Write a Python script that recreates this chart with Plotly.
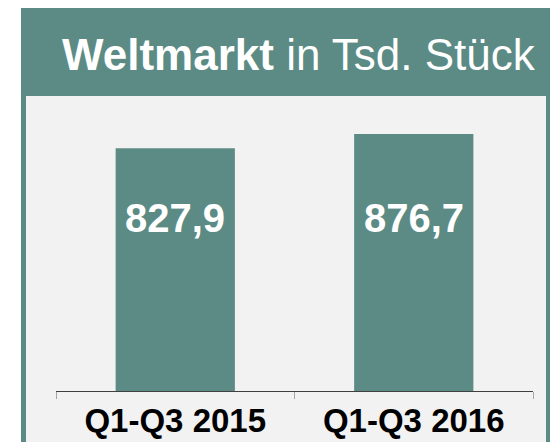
import plotly.graph_objects as go

categories = ["Q1-Q3 2015", "Q1-Q3 2016"]
values = [827.9, 876.7]
title_bold = "Weltmarkt"
title_rest = " in Tsd. Stück"

TEAL = "#5B8B84"
PANEL = "#F2F2F2"
W, H = 550, 442

def px_x(p):
    return p / W

def px_y(q):
    return 1 - q / H

fig = go.Figure()
fig.add_trace(go.Bar(
    x=categories, y=values, width=0.5,
    marker=dict(color=TEAL, line=dict(width=0)),
    hoverinfo="skip",
))

for c, v in zip(categories, values):
    fig.add_annotation(
        x=c, xref="x", y=px_y(218), yref="paper",
        text=f"<b>{v:.1f}</b>".replace(".", ","),
        showarrow=False, xanchor="center", yanchor="middle",
        font=dict(family="Liberation Sans", size=40, color="white"),
    )

fig.add_annotation(
    x=px_x(60), xref="paper", y=px_y(54), yref="paper",
    text=f"<b>{title_bold}</b>{title_rest}",
    showarrow=False, xanchor="left", yanchor="middle",
    font=dict(family="Liberation Sans", size=44, color="white"),
)

fig.update_layout(
    width=W, height=H,
    margin=dict(l=0, r=0, t=0, b=0),
    paper_bgcolor="white",
    plot_bgcolor="rgba(0,0,0,0)",
    showlegend=False,
    shapes=[
        dict(type="rect", xref="paper", yref="paper", x0=px_x(21), x1=1, y0=0, y1=px_y(8),
             fillcolor=TEAL, line=dict(width=0), layer="below"),
        dict(type="rect", xref="paper", yref="paper", x0=px_x(26), x1=px_x(546), y0=0, y1=px_y(96),
             fillcolor=PANEL, line=dict(width=0), layer="below"),
    ],
    xaxis=dict(
        domain=[px_x(56), px_x(533)],
        range=[-0.5, 1.5],
        showline=True, linecolor="#404040", linewidth=1,
        ticks="outside", tickson="boundaries", ticklen=7, tickcolor="#A6A6A6", tickwidth=1,
        tickfont=dict(family="Liberation Sans", size=33, color="black", weight="bold"),
        showgrid=False, zeroline=False, fixedrange=True,
    ),
    yaxis=dict(
        domain=[px_y(391), px_y(391 - 0.29316 * 1000)],
        range=[0, 1000],
        visible=False, showgrid=False, zeroline=False, fixedrange=True,
    ),
)

fig.write_html("out.html", config={"displayModeBar": False})

with open("out.html", encoding="utf-8") as f:
    html = f.read()
html = html.replace("<head>", "<head><style>html,body{margin:0;padding:0;overflow:hidden;}</style>", 1)
with open("out.html", "w", encoding="utf-8") as f:
    f.write(html)
